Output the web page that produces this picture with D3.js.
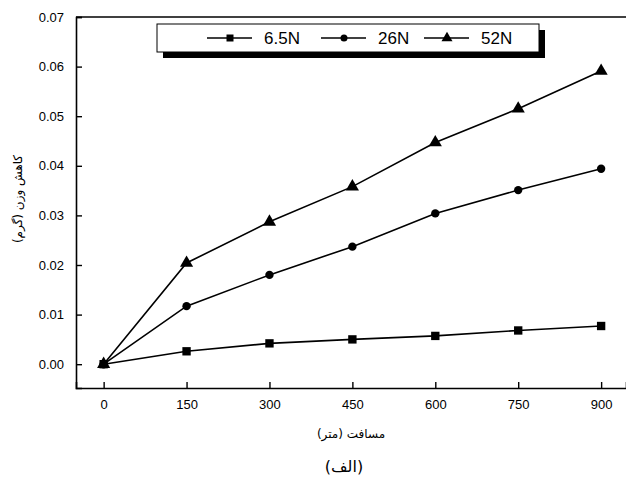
<!DOCTYPE html>
<html>
<head>
<meta charset="utf-8">
<script src="https://cdn.jsdelivr.net/npm/d3@7"></script>
<style>
    body { margin: 0; background: #fff; }
    svg { display: block; font-family: 'Liberation Sans', Arial, sans-serif; }
</style>
</head>
<body>
<svg></svg>
<script>
// distance in metres
let distances = [0, 150, 300, 450, 600, 750, 900]
let loads = ['6.5N', '26N', '52N']
// weight loss (g) per load
let loss65 = [0, 0.0026, 0.0042, 0.0050, 0.0057, 0.0068, 0.0077]
let loss26 = [0, 0.0117, 0.0180, 0.0237, 0.0304, 0.0351, 0.0394]
let loss52 = [0, 0.0204, 0.0287, 0.0358, 0.0447, 0.0515, 0.0591]
let xTicks = [0, 150, 300, 450, 600, 750, 900]
let yTicks = [0, 0.01, 0.02, 0.03, 0.04, 0.05, 0.06, 0.07]

let width = 626
let height = 480

let svg = d3.select('svg')
    .attr('width', width)
    .attr('height', height)

let series = [
    {name: loads[0], values: loss65, shape: d3.symbolSquare, size: 70},
    {name: loads[1], values: loss26, shape: d3.symbolCircle, size: 55},
    {name: loads[2], values: loss52, shape: d3.symbolTriangle, size: 75}
]

// axis frame goes a bit past the data on both sides
let xScale = d3.scaleLinear().domain([-50, 945]).range([76, 626])
let yScale = d3.scaleLinear().domain([-0.0048, 0.07]).range([388, 17])

let xAxis = d3.axisBottom(xScale)
    .tickValues(xTicks)
    .tickSize(-6)
    .tickPadding(12)
    .tickFormat(d3.format('d'))

let yAxis = d3.axisLeft(yScale)
    .tickValues(yTicks)
    .tickSize(-6)
    .tickPadding(12)
    .tickFormat(d3.format('.2f'))

let gx = svg.append('g')
    .attr('transform', 'translate(0,' + yScale(-0.0048) + ')')
    .call(xAxis)

let gy = svg.append('g')
    .attr('transform', 'translate(' + xScale(-50) + ',0)')
    .call(yAxis)

;[gx, gy].forEach(g => {
    g.select('.domain').attr('stroke', '#000').attr('stroke-width', 1.6)
    g.selectAll('.tick line').attr('stroke', '#000').attr('stroke-width', 1.4)
    g.selectAll('.tick text').attr('fill', '#000').style('font-size', '13px')
})

// top border
svg.append('line')
    .attr('x1', xScale(-50)).attr('x2', xScale(945))
    .attr('y1', yScale(0.07)).attr('y2', yScale(0.07))
    .attr('stroke', '#000').attr('stroke-width', 1.6)

let line = d3.line()
    .x((d, i) => xScale(distances[i]))
    .y(d => yScale(d))

series.forEach(s => {
    svg.append('path')
        .datum(s.values)
        .attr('d', line)
        .attr('fill', 'none')
        .attr('stroke', '#000')
        .attr('stroke-width', 1.6)

    svg.selectAll(null)
        .data(s.values)
        .enter()
        .append('path')
        .attr('d', d3.symbol().type(s.shape).size(s.size))
        .attr('transform', (d, i) => 'translate(' + xScale(distances[i]) + ',' + yScale(d) + ')')
        .attr('fill', '#000')
})

// legend with drop shadow
let legend = svg.append('g')
legend.append('rect')
    .attr('x', 163).attr('y', 30).attr('width', 382).attr('height', 28)
    .attr('fill', '#000')
legend.append('rect')
    .attr('x', 157).attr('y', 24).attr('width', 382).attr('height', 28)
    .attr('fill', '#fff').attr('stroke', '#000').attr('stroke-width', 1)

let legendX = [207, 321, 424]
series.forEach((s, i) => {
    let x0 = legendX[i]
    legend.append('line')
        .attr('x1', x0).attr('x2', x0 + 45)
        .attr('y1', 38).attr('y2', 38)
        .attr('stroke', '#000').attr('stroke-width', 1.4)
    legend.append('path')
        .attr('d', d3.symbol().type(s.shape).size(s.size * 0.7))
        .attr('transform', 'translate(' + (x0 + 23) + ',38)')
        .attr('fill', '#000')
    legend.append('text')
        .attr('x', x0 + 57).attr('y', 44)
        .style('font-size', '17px')
        .text(s.name)
})

// axis titles
svg.append('text')
    .attr('transform', 'translate(22,' + 199 + ') rotate(-90)')
    .attr('text-anchor', 'middle')
    .attr('direction', 'rtl')
    .style('font-family', "'DejaVu Sans', sans-serif")
    .style('font-size', '12px')
    .text('کاهش وزن (گرم)')

svg.append('text')
    .attr('x', 351).attr('y', 438)
    .attr('text-anchor', 'middle')
    .attr('direction', 'rtl')
    .style('font-family', "'DejaVu Sans', sans-serif")
    .style('font-size', '12px')
    .text('مسافت (متر)')

svg.append('text')
    .attr('x', 344).attr('y', 472)
    .attr('text-anchor', 'middle')
    .attr('direction', 'rtl')
    .style('font-family', "'DejaVu Sans', sans-serif")
    .style('font-size', '16px')
    .text('(الف)')
</script>
</body>
</html>
